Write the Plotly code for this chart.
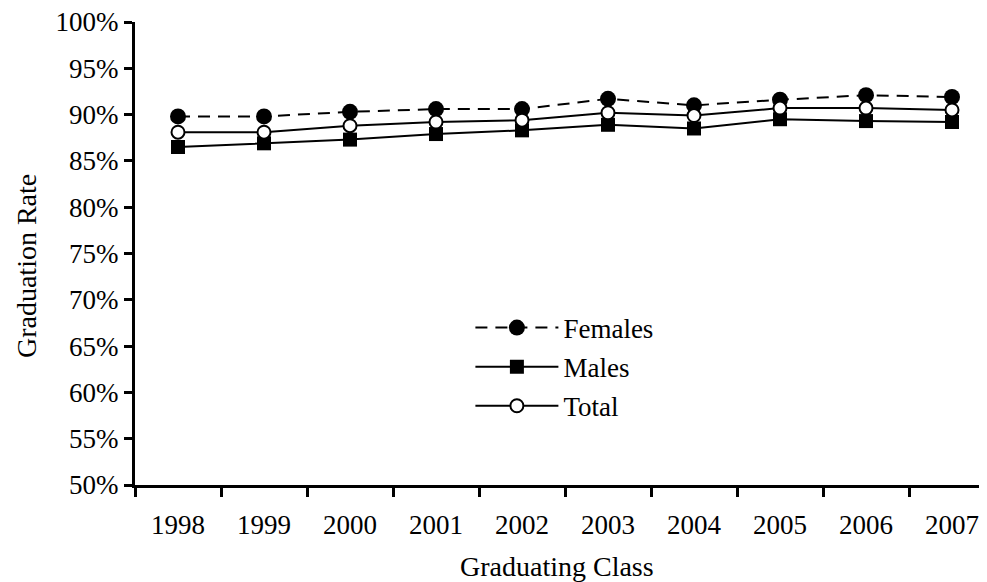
import plotly.graph_objects as go

years = ["1998", "1999", "2000", "2001", "2002", "2003", "2004", "2005", "2006", "2007"]
females = [89.8, 89.8, 90.3, 90.6, 90.6, 91.7, 91.0, 91.6, 92.1, 91.9]
males = [86.5, 86.9, 87.3, 87.9, 88.3, 88.9, 88.5, 89.5, 89.3, 89.2]
total = [88.1, 88.1, 88.8, 89.2, 89.4, 90.2, 89.9, 90.7, 90.7, 90.5]
y_ticks = [50, 55, 60, 65, 70, 75, 80, 85, 90, 95, 100]
y_labels = [f"{v}%" for v in y_ticks]

FONT = "Liberation Serif, Times New Roman, serif"
SIZE = 27


def main():
    fig = go.Figure()
    fig.add_trace(
        go.Scatter(
            x=years, y=males, mode="lines+markers", name="Males",
            line=dict(color="black", width=2),
            marker=dict(symbol="square", size=14, color="black"),
            legendrank=2, legendgroup="m",
        )
    )
    fig.add_trace(
        go.Scatter(
            x=years, y=females, mode="lines+markers", name="Females",
            line=dict(color="black", width=2, dash="12px,8px"),
            marker=dict(symbol="circle", size=16, color="black"),
            legendrank=1, legendgroup="f",
        )
    )
    fig.add_trace(
        go.Scatter(
            x=years, y=total, mode="lines+markers", name="Total",
            line=dict(color="black", width=2),
            marker=dict(symbol="circle", size=13, color="white", line=dict(color="black", width=2)),
            legendrank=3, legendgroup="t",
        )
    )

    # page body has an 8px margin, so the figure is shifted by (8, 8)
    fig.update_layout(
        width=987,
        height=574,
        margin=dict(l=127, r=0, t=14, b=97),
        plot_bgcolor="white",
        paper_bgcolor="white",
        font=dict(family=FONT, size=SIZE, color="black"),
        legend=dict(
            x=0.39, y=0.392, xanchor="left", yanchor="top",
            bgcolor="rgba(0,0,0,0)", itemwidth=83,
            font=dict(family=FONT, size=SIZE), tracegroupgap=1,
        ),
    )
    # axis titles as annotations so they can sit off-centre like the original
    fig.add_annotation(
        text="Graduation Rate", textangle=-90,
        xref="paper", yref="paper", x=-0.1267, y=0.473,
        xanchor="center", yanchor="middle", showarrow=False,
        font=dict(family=FONT, size=28), borderpad=0,
    )
    fig.add_annotation(
        text="Graduating Class",
        xref="paper", yref="paper", x=0.491, y=-0.175,
        xanchor="center", yanchor="middle", showarrow=False,
        font=dict(family=FONT, size=28), borderpad=0,
    )
    fig.update_xaxes(
        type="category",
        range=[-0.5, 9.5],
        tickson="boundaries",
        ticks="outside",
        ticklen=9,
        tickwidth=3,
        tickcolor="black",
        showline=True,
        linewidth=3,
        linecolor="black",
        showgrid=False,
        automargin=False,
        ticklabelstandoff=14,
        ticklabeloverflow="allow",
    )
    fig.update_yaxes(
        range=[50, 100],
        tickvals=y_ticks,
        ticktext=y_labels,
        ticks="outside",
        ticklen=8,
        tickwidth=3,
        tickcolor="black",
        showline=True,
        linewidth=3,
        linecolor="black",
        showgrid=False,
        zeroline=False,
        automargin=False,
        ticklabeloverflow="allow",
    )

    fig.write_html("out.html")


if __name__ == "__main__":
    main()
